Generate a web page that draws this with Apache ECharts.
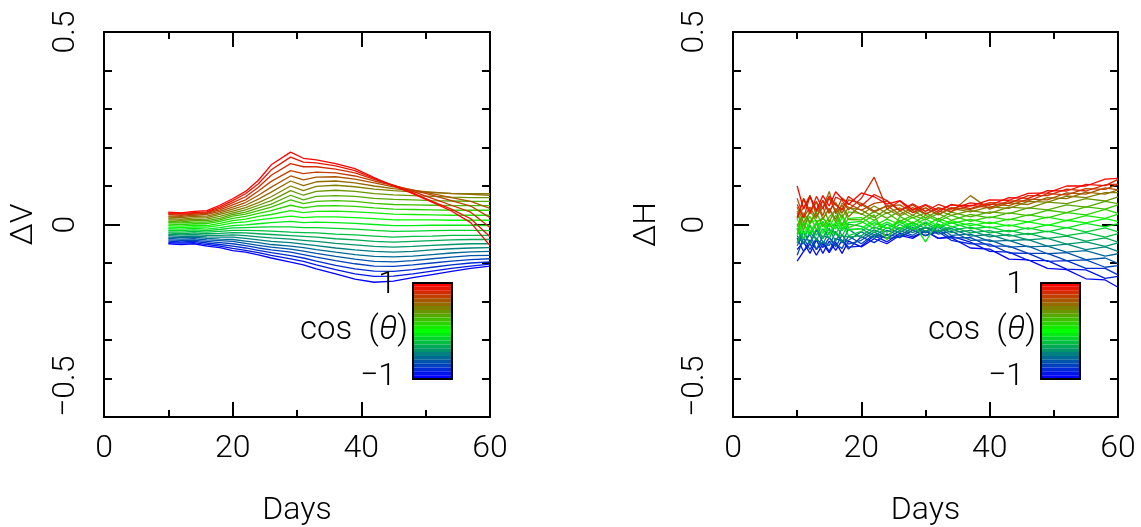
<!DOCTYPE html>
<html><head><meta charset="utf-8">
<script src="https://cdn.jsdelivr.net/npm/echarts@6/dist/echarts.min.js"></script>
<style>html,body{margin:0;padding:0;background:#fff}#c{width:1141px;height:527px}</style>
</head><body><div id="c"></div>
<script>
// ---- data ----
const daysV = [10,12,14,16,18,20,22,24,26,29,31,33,36,39,42,45,48,51,54,57,60];
const daysH = [10,11,12,13,14,15,16,17,18,20,22,24,26,28,30,32,34,37,40,43,46,49,52,55,58,60];
const cosTheta = [1,0.917,0.833,0.75,0.667,0.583,0.5,0.417,0.333,0.25,0.167,0.083,0,-0.083,-0.167,-0.25,-0.333,-0.417,-0.5,-0.583,-0.667,-0.75,-0.833,-0.917,-1];
const xTicks = [0,20,40,60];
const yTicks = [-0.5,0,0.5];
const cbLabels = ['1','\u22121'];

// ΔV, one row per cosTheta value (rows follow cosTheta order), columns follow daysV
const deltaV = [
[.032,.030,.034,.036,.050,.067,.086,.115,.155,.188,.172,.168,.158,.145,.122,.100,.080,.058,.035,.005,-.055],
[.030,.029,.031,.033,.046,.062,.080,.106,.142,.175,.162,.160,.152,.140,.120,.101,.082,.060,.040,.015,-.032],
[.028,.027,.029,.031,.042,.057,.072,.097,.128,.158,.150,.150,.144,.134,.117,.102,.086,.068,.050,.032,-.008],
[.026,.024,.027,.029,.038,.051,.064,.087,.112,.140,.132,.136,.134,.126,.113,.101,.089,.076,.062,.048,.018],
[.022,.021,.024,.026,.034,.045,.057,.076,.097,.126,.116,.123,.124,.118,.108,.098,.090,.080,.070,.060,.042],
[.019,.018,.021,.022,.030,.040,.050,.066,.084,.113,.101,.111,.113,.108,.100,.093,.088,.084,.080,.078,.076],
[.015,.014,.017,.018,.026,.035,.044,.057,.072,.100,.088,.099,.102,.098,.092,.088,.085,.083,.081,.080,.080],
[.012,.011,.013,.014,.021,.030,.038,.050,.062,.088,.076,.086,.089,.086,.080,.077,.075,.073,.071,.070,.070],
[.008,.007,.010,.010,.016,.026,.032,.043,.053,.076,.064,.073,.075,.073,.068,.065,.064,.062,.061,.060,.060],
[.005,.004,.006,.006,.012,.022,.027,.036,.045,.064,.054,.060,.062,.060,.055,.052,.051,.050,.049,.049,.049],
[.001,.000,.002,.002,.008,.016,.021,.029,.036,.050,.043,.048,.049,.047,.043,.040,.039,.038,.037,.037,.037],
[-.003,-.004,-.002,-.003,.003,.010,.014,.021,.026,.036,.031,.034,.035,.033,.030,.027,.026,.025,.024,.024,.024],
[-.007,-.008,-.006,-.007,-.002,.004,.007,.012,.016,.022,.018,.020,.020,.018,.015,.012,.012,.012,.011,.011,.011],
[-.011,-.012,-.010,-.012,-.008,-.003,-.001,.002,.005,.008,.005,.006,.005,.003,.000,-.003,-.003,-.002,-.002,-.002,-.003],
[-.015,-.016,-.014,-.016,-.013,-.009,-.008,-.007,-.006,-.006,-.008,-.008,-.010,-.012,-.015,-.018,-.017,-.016,-.015,-.015,-.016],
[-.019,-.020,-.018,-.020,-.018,-.015,-.015,-.016,-.017,-.020,-.021,-.022,-.025,-.027,-.030,-.033,-.031,-.030,-.028,-.028,-.028],
[-.022,-.024,-.022,-.024,-.023,-.021,-.022,-.024,-.026,-.029,-.031,-.033,-.037,-.040,-.044,-.046,-.044,-.042,-.040,-.039,-.039],
[-.026,-.027,-.026,-.028,-.028,-.027,-.029,-.032,-.035,-.038,-.041,-.044,-.049,-.053,-.057,-.059,-.057,-.054,-.052,-.050,-.050],
[-.029,-.031,-.030,-.032,-.033,-.033,-.036,-.040,-.044,-.047,-.051,-.055,-.061,-.066,-.070,-.072,-.070,-.066,-.063,-.061,-.060],
[-.033,-.034,-.033,-.036,-.038,-.039,-.043,-.047,-.052,-.056,-.060,-.065,-.072,-.078,-.083,-.084,-.082,-.078,-.074,-.071,-.070],
[-.036,-.038,-.037,-.040,-.042,-.044,-.049,-.054,-.059,-.064,-.069,-.075,-.083,-.090,-.096,-.097,-.094,-.089,-.085,-.081,-.080],
[-.040,-.041,-.041,-.044,-.047,-.050,-.055,-.061,-.066,-.072,-.078,-.085,-.094,-.102,-.108,-.109,-.105,-.100,-.095,-.091,-.089],
[-.043,-.045,-.044,-.048,-.052,-.056,-.061,-.067,-.073,-.081,-.087,-.095,-.106,-.115,-.121,-.122,-.117,-.111,-.105,-.100,-.097],
[-.047,-.048,-.047,-.052,-.056,-.062,-.067,-.073,-.080,-.089,-.096,-.105,-.117,-.128,-.135,-.134,-.128,-.121,-.114,-.108,-.103],
[-.050,-.052,-.050,-.056,-.060,-.068,-.072,-.079,-.087,-.098,-.105,-.115,-.128,-.142,-.150,-.147,-.138,-.130,-.122,-.114,-.108]
];

// ΔH, one row per cosTheta value, columns follow daysH
const deltaH = [
[.100,.040,.072,.037,.075,.048,.085,.067,.052,.082,.072,.053,.062,.038,.052,.037,.051,.048,.064,.063,.081,.082,.100,.100,.118,.120],
[.016,.066,.028,.073,.041,.074,.051,.038,.073,.048,.078,.062,.037,.054,.034,.052,.040,.056,.050,.070,.068,.088,.087,.104,.101,.117],
[.052,.017,.074,.034,.062,.029,.071,.063,.038,.068,.123,.040,.061,.031,.050,.031,.052,.041,.057,.055,.075,.075,.092,.087,.103,.105],
[.018,.068,.035,.060,.023,.070,.032,.069,.054,.037,.055,.061,.035,.051,.027,.043,.034,.050,.044,.061,.061,.080,.077,.093,.091,.104],
[.068,.018,.045,.016,.063,.036,.057,.029,.064,.055,.035,.048,.051,.031,.043,.025,.044,.039,.053,.049,.066,.064,.082,.079,.095,.090],
[.019,.044,.076,.022,.044,.086,.028,.050,.020,.052,.032,.049,.026,.044,.027,.044,.032,.075,.040,.056,.052,.070,.067,.084,.079,.090],
[.045,.005,.032,.058,.015,.042,.013,.055,.045,.026,.048,.029,.043,.024,.043,.026,.042,.033,.046,.042,.060,.058,.074,.070,.083,.083],
[-.005,.030,.007,.033,.045,.006,.042,.019,.044,.038,.018,.040,.022,.037,.017,.036,.024,.036,.029,.045,.042,.058,.054,.067,.061,.072],
[.030,-.015,.037,.007,.014,.041,.006,.043,.013,.012,.034,.016,.035,.017,.030,.013,.032,.020,.033,.028,.043,.038,.051,.045,.060,.054],
[-.025,.030,.001,.032,-.006,.020,.036,-.003,.033,.028,.011,.031,.008,.024,.012,.029,.011,.026,.017,.030,.023,.037,.031,.046,.040,.051],
[.035,-.005,.021,-.013,.018,-.006,.000,.026,-.008,.004,.025,-.040,.021,.003,.024,.008,.024,.008,.020,.012,.025,.017,.031,.025,.039,.029],
[-.015,.025,-.019,.006,.018,-.006,.024,-.010,.016,.018,-.003,.014,.000,.019,-.003,.016,.003,.013,.002,.014,.007,.019,.010,.023,.016,.027],
[.015,-.025,.006,.011,-.023,.013,-.012,.019,-.015,-.010,.011,-.010,.011,-.004,.015,-.005,.010,-.003,.006,-.004,.007,-.002,.011,.004,.015,.008],
[-.029,.006,-.028,.002,.002,-.027,.008,-.016,.005,.008,-.011,.006,-.010,.007,-.045,.010,-.006,.003,-.009,-.001,-.012,-.001,-.009,.003,-.006,.002],
[.002,-.038,-.003,-.028,.008,-.016,-.026,.005,-.029,-.018,.005,-.011,.007,-.012,.007,-.009,.005,-.011,-.006,-.019,-.009,-.019,-.008,-.019,-.009,-.019],
[-.048,.002,-.027,.003,-.037,.004,-.026,-.030,.001,-.005,-.021,.001,-.015,.005,-.010,.001,-.015,-.007,-.022,-.015,-.026,-.017,-.029,-.021,-.033,-.024],
[-.012,-.037,-.001,-.041,-.011,-.036,.000,-.029,-.033,-.029,-.006,-.020,.000,-.015,.004,-.018,-.005,-.022,-.016,-.030,-.023,-.036,-.030,-.043,-.035,-.046],
[-.046,-.016,-.051,-.011,-.036,-.010,-.044,-.009,-.013,-.011,-.030,-.008,-.021,-.001,-.018,-.003,-.021,-.015,-.032,-.026,-.040,-.036,-.051,-.045,-.057,-.048],
[-.010,-.050,-.020,-.040,-.050,-.020,-.019,-.048,-.012,-.035,-.014,-.029,-.008,-.021,-.006,-.020,-.010,-.030,-.026,-.042,-.039,-.056,-.051,-.065,-.058,-.070],
[-.055,-.020,-.050,-.015,-.045,-.055,-.019,-.043,-.041,-.019,-.036,-.015,-.029,-.008,-.022,-.007,-.028,-.025,-.044,-.041,-.058,-.056,-.072,-.068,-.082,-.076],
[-.030,-.050,-.025,-.065,-.030,-.034,-.058,-.027,-.051,-.041,-.020,-.036,-.016,-.028,-.008,-.025,-.017,-.041,-.040,-.059,-.056,-.076,-.073,-.091,-.087,-.101],
[-.080,-.035,-.065,-.035,-.060,-.034,-.053,-.062,-.030,-.050,-.026,-.036,-.033,-.015,-.029,-.014,-.035,-.034,-.056,-.056,-.075,-.075,-.094,-.092,-.111,-.107],
[-.035,-.070,-.040,-.065,-.045,-.069,-.037,-.041,-.064,-.032,-.047,-.025,-.034,-.015,-.029,-.019,-.041,-.050,-.051,-.074,-.075,-.096,-.094,-.114,-.114,-.131],
[-.065,-.045,-.075,-.040,-.075,-.043,-.067,-.041,-.059,-.056,-.029,-.045,-.023,-.032,-.017,-.036,-.030,-.046,-.070,-.072,-.093,-.094,-.116,-.118,-.140,-.135],
[-.095,-.070,-.050,-.080,-.050,-.073,-.046,-.075,-.043,-.058,-.037,-.050,-.028,-.036,-.017,-.036,-.034,-.061,-.064,-.090,-.092,-.114,-.117,-.141,-.144,-.163]
];

// ---- styling ----
function cosColor(c){
  const t=(c+1)/2; let r,g,b;
  if(t>=0.5){ r=255*(2*t-1); g=255*(2-2*t); b=0; }
  else { r=0; g=510*t; b=255*(1-2*t); }
  return 'rgb('+Math.round(r)+','+Math.round(g)+','+Math.round(b)+')';
}
const FONT='Roboto';
const txt={fontFamily:FONT,fontWeight:300,fontSize:32,color:'#000'};
const black={color:'#000',width:2};
function fmtNum(v){ return v<0 ? '\u2212'+String(Math.abs(v)) : String(v); }

function xMain(gi,pos){
  const o={type:'value',gridIndex:gi,min:0,max:60,interval:20,position:pos,
    axisLine:{show:true,onZero:false,lineStyle:black},
    axisTick:{show:true,inside:true,length:15,lineStyle:black},
    minorTick:{show:true,splitNumber:2,length:7,lineStyle:black},
    splitLine:{show:false},minorSplitLine:{show:false},
    axisLabel:{show:false}};
  if(pos==='bottom'){
    o.axisLabel={show:true,...txt,margin:16,formatter:v=>xTicks.includes(v)?String(v):''};
    o.name='Days'; o.nameLocation='middle'; o.nameGap=78; o.nameTextStyle={...txt};
  }
  return o;
}
function yMain(gi,pos,name,gap){
  const o={type:'value',gridIndex:gi,min:-0.5,max:0.5,interval:0.5,position:pos,
    axisLine:{show:true,onZero:false,lineStyle:black},
    axisTick:{show:true,inside:true,length:16,lineStyle:black},
    minorTick:{show:true,splitNumber:5,length:8,lineStyle:black},
    splitLine:{show:false},minorSplitLine:{show:false},
    axisLabel:{show:false}};
  if(pos==='left'){
    o.axisLabel={show:true,...txt,rotate:90,margin:22,alignMinLabel:'left',
      formatter:v=>{const k=yTicks.find(t=>Math.abs(t-v)<1e-9);return k===undefined?'':fmtNum(k);}};
    o.name=name; o.nameLocation='middle'; o.nameRotate=90; o.nameGap=gap; o.nameTextStyle={...txt};
  }
  return o;
}
function cbX(gi,pos){
  return {type:'value',gridIndex:gi,min:0,max:1,position:pos,z:10,
    axisLine:{show:true,onZero:false,lineStyle:black},axisTick:{show:false},
    axisLabel:{show:false},splitLine:{show:false}};
}
const MID=Math.floor(cosTheta.length/2);
function cbYLeft(gi){
  return {type:'category',gridIndex:gi,data:cosTheta.map(String),inverse:true,position:'left',z:10,
    axisLine:{show:true,onZero:false,lineStyle:black},axisTick:{show:false},splitLine:{show:false},
    axisLabel:{...txt,interval:0,margin:5,
      formatter:(v,i)=> i===0?'{a|'+cbLabels[0]+'}':(i===cosTheta.length-1?'{a|'+cbLabels[1]+'}':(i===MID?'{n|cos  (}{t|\u03B8}{n|)}':'')),
      rich:{a:{...txt,padding:[0,12,0,0]},n:{...txt,fontSize:33},t:{...txt,fontSize:33,fontStyle:'italic'}}}};
}
function cbYRight(gi){
  return {type:'value',gridIndex:gi,min:0,max:1,position:'right',z:10,
    axisLine:{show:true,onZero:false,lineStyle:black},axisTick:{show:false},
    axisLabel:{show:false},splitLine:{show:false}};
}

const series=[];
for(let i=cosTheta.length-1;i>=0;i--){
  const col=cosColor(cosTheta[i]);
  series.push({type:'line',xAxisIndex:0,yAxisIndex:0,symbol:'none',silent:true,
    data:daysV.map((d,j)=>[d,deltaV[i][j]]),lineStyle:{width:1.3,color:col},itemStyle:{color:col}});
  series.push({type:'line',xAxisIndex:2,yAxisIndex:2,symbol:'none',silent:true,
    data:daysH.map((d,j)=>[d,deltaH[i][j]]),lineStyle:{width:1.3,color:col},itemStyle:{color:col}});
}
[[4,4],[6,6]].forEach(([xi,yi])=>{
  series.push({type:'bar',xAxisIndex:xi,yAxisIndex:yi,barCategoryGap:'0%',silent:true,z:1,
    data:cosTheta.map(c=>({value:1,itemStyle:{color:cosColor(c)}}))});
});

const chart=echarts.init(document.getElementById('c'),null,{renderer:'canvas'});
chart.setOption({
  animation:false,
  backgroundColor:'#fff',
  grid:[
    {left:104,top:32,width:386,height:385,outerBoundsMode:'none'},
    {left:733,top:32,width:385,height:385,outerBoundsMode:'none'},
    {left:413,top:283,width:39,height:96,outerBoundsMode:'none'},
    {left:1041,top:283,width:39,height:96,outerBoundsMode:'none'}
  ],
  xAxis:[xMain(0,'bottom'),xMain(0,'top'),xMain(1,'bottom'),xMain(1,'top'),
         cbX(2,'bottom'),cbX(2,'top'),cbX(3,'bottom'),cbX(3,'top')],
  yAxis:[yMain(0,'left','\u0394V',64),yMain(0,'right'),yMain(1,'left','\u0394H',70),yMain(1,'right'),
         cbYLeft(2),cbYRight(2),cbYLeft(3),cbYRight(3)],
  series:series
});
</script></body></html>
